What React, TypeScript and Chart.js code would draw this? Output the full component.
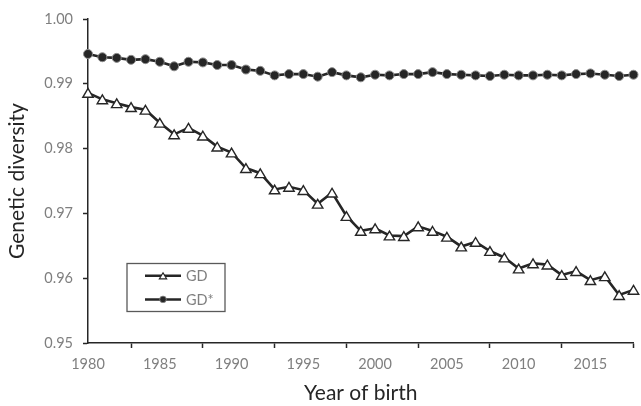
import React, { useEffect, useRef } from "react";
import { Chart, registerables } from "chart.js";

Chart.register(...registerables);

const years = [
  1980, 1981, 1982, 1983, 1984, 1985, 1986, 1987, 1988, 1989,
  1990, 1991, 1992, 1993, 1994, 1995, 1996, 1997, 1998, 1999,
  2000, 2001, 2002, 2003, 2004, 2005, 2006, 2007, 2008, 2009,
  2010, 2011, 2012, 2013, 2014, 2015, 2016, 2017, 2018,
];

const gdValues = [
  0.9886, 0.9876, 0.987, 0.9864, 0.986, 0.984, 0.9822, 0.9832, 0.982, 0.9803,
  0.9794, 0.977, 0.9762, 0.9737, 0.9741, 0.9736, 0.9715, 0.9732, 0.9696, 0.9673,
  0.9677, 0.9666, 0.9665, 0.968, 0.9673, 0.9664, 0.9649, 0.9656, 0.9642, 0.9632,
  0.9615, 0.9623, 0.9621, 0.9605, 0.9611, 0.9597, 0.9603, 0.9574, 0.9582,
];

const gdStarValues = [
  0.9946, 0.9941, 0.994, 0.9937, 0.9938, 0.9934, 0.9927, 0.9934, 0.9933, 0.9929,
  0.9929, 0.9922, 0.992, 0.9913, 0.9915, 0.9915, 0.9911, 0.9918, 0.9913, 0.991,
  0.9914, 0.9913, 0.9915, 0.9915, 0.9918, 0.9915, 0.9914, 0.9913, 0.9912, 0.9914,
  0.9913, 0.9913, 0.9914, 0.9913, 0.9915, 0.9916, 0.9914, 0.9912, 0.9914,
];

const xLabelYears = [1980, 1985, 1990, 1995, 2000, 2005, 2010, 2015];
const xTickMarkYears = [1983, 1988, 1993, 1998, 2003, 2008, 2013, 2018];
const yTickValues = [0.95, 0.96, 0.97, 0.98, 0.99, 1.0];

const seriesNames = ["GD", "GD*"];

const DARK = "#262626";
const GRAY = "#7f7f7f";
const FONT = "Lato";

function triPath(ctx: CanvasRenderingContext2D, x: number, y: number, w: number, h: number) {
  ctx.beginPath();
  ctx.moveTo(x, y - h / 2);
  ctx.lineTo(x + w / 2, y + h / 2);
  ctx.lineTo(x - w / 2, y + h / 2);
  ctx.closePath();
}

// Triangle markers centred on their bounding box, drawn at the points
// positioned by Chart.js for the GD dataset.
const triangleMarkers = {
  id: "triangleMarkers",
  afterDatasetsDraw(chart: any) {
    const meta = chart.getDatasetMeta(0);
    const ctx = chart.ctx as CanvasRenderingContext2D;
    ctx.save();
    meta.data.forEach((el: any) => {
      triPath(ctx, el.x, el.y, 10.4, 8.8);
      ctx.fillStyle = "#ffffff";
      ctx.fill();
      ctx.lineWidth = 1.4;
      ctx.strokeStyle = DARK;
      ctx.lineJoin = "miter";
      ctx.stroke();
    });
    ctx.restore();
  },
};

const boxLegend = {
  id: "boxLegend",
  afterDraw(chart: any) {
    const ctx = chart.ctx as CanvasRenderingContext2D;
    ctx.save();
    ctx.lineWidth = 1.3;
    ctx.strokeStyle = "#595959";
    ctx.strokeRect(127, 263.5, 98, 48);

    const rows = [275.8, 299.4];
    rows.forEach((y, i) => {
      ctx.beginPath();
      ctx.moveTo(145, y);
      ctx.lineTo(181, y);
      ctx.lineWidth = 2.5;
      ctx.strokeStyle = DARK;
      ctx.stroke();
      if (i === 0) {
        triPath(ctx, 163, y, 7.2, 6);
        ctx.fillStyle = "#fff";
        ctx.fill();
        ctx.lineWidth = 1.2;
        ctx.strokeStyle = DARK;
        ctx.stroke();
      } else {
        ctx.beginPath();
        ctx.arc(163, y, 3.3, 0, Math.PI * 2);
        ctx.fillStyle = DARK;
        ctx.fill();
        ctx.lineWidth = 0.8;
        ctx.strokeStyle = "#8c8c8c";
        ctx.stroke();
      }
      ctx.fillStyle = GRAY;
      ctx.font = `14.5px ${FONT}`;
      ctx.textBaseline = "middle";
      ctx.textAlign = "left";
      ctx.fillText(seriesNames[i], 186, y + 0.5);
    });
    ctx.restore();
  },
};

export default function App() {
  const ref = useRef<HTMLCanvasElement | null>(null);

  useEffect(() => {
    if (!ref.current) return;
    const chart = new Chart(ref.current, {
      type: "line",
      data: {
        datasets: [
          {
            label: seriesNames[0],
            data: years.map((y, i) => ({ x: y, y: gdValues[i] })),
            borderColor: DARK,
            borderWidth: 2.6,
            pointRadius: 0,
            pointHoverRadius: 0,
            tension: 0,
            clip: false as any,
          },
          {
            label: seriesNames[1],
            data: years.map((y, i) => ({ x: y, y: gdStarValues[i] })),
            borderColor: DARK,
            borderWidth: 2.6,
            pointStyle: "circle",
            pointRadius: 4.5,
            pointBorderWidth: 1,
            pointBackgroundColor: DARK,
            pointBorderColor: "#8c8c8c",
            tension: 0,
            clip: false as any,
          },
        ],
      },
      options: {
        animation: false,
        responsive: false,
        devicePixelRatio: 1,
        layout: { padding: { top: 19, right: 3, left: 0, bottom: 0 } },
        plugins: {
          legend: { display: false },
          tooltip: { enabled: false },
        },
        scales: {
          x: {
            type: "linear",
            min: 1980,
            max: 2018,
            afterBuildTicks: (scale: any) => {
              scale.ticks = [...xLabelYears, ...xTickMarkYears]
                .sort((a, b) => a - b)
                .map((v) => ({ value: v }));
            },
            afterFit: (scale: any) => {
              scale.height = 63;
            },
            ticks: {
              autoSkip: false,
              maxRotation: 0,
              minRotation: 0,
              padding: 7.5,
              color: GRAY,
              font: { family: FONT, size: 14.5 },
              callback: (v: any) => (xLabelYears.includes(Number(v)) ? String(v) : ""),
            },
            grid: {
              drawOnChartArea: false,
              drawTicks: true,
              tickLength: 5,
              tickWidth: 1.5,
              tickColor: (ctx: any) =>
                ctx.tick && xTickMarkYears.includes(ctx.tick.value) ? DARK : "rgba(0,0,0,0)",
            },
            border: { display: true, color: DARK, width: 1.5 },
            title: {
              display: true,
              text: "Year of birth",
              color: DARK,
              font: { family: FONT, size: 21 },
              padding: { top: 0, bottom: 0 },
            },
          },
          y: {
            type: "linear",
            min: 0.95,
            max: 1.0,
            afterBuildTicks: (scale: any) => {
              scale.ticks = yTickValues.map((v) => ({ value: v }));
            },
            afterFit: (scale: any) => {
              scale.width = 88;
            },
            ticks: {
              padding: 10,
              color: GRAY,
              font: { family: FONT, size: 14.5 },
              callback: (v: any) => Number(v).toFixed(2),
            },
            grid: {
              drawOnChartArea: false,
              drawTicks: true,
              tickLength: 5,
              tickWidth: 1.5,
              tickColor: DARK,
            },
            border: { display: true, color: DARK, width: 1.5 },
            title: {
              display: true,
              text: "Genetic diversity",
              color: DARK,
              font: { family: FONT, size: 21 },
              padding: { top: 5, bottom: 0 },
            },
          },
        },
      },
      plugins: [triangleMarkers, boxLegend],
    });
    return () => chart.destroy();
  }, []);

  return (
    <div style={{ position: "fixed", left: 0, top: 0, width: 641, height: 406, background: "#fff" }}>
      <canvas ref={ref} width={641} height={406} style={{ display: "block" }} />
    </div>
  );
}
